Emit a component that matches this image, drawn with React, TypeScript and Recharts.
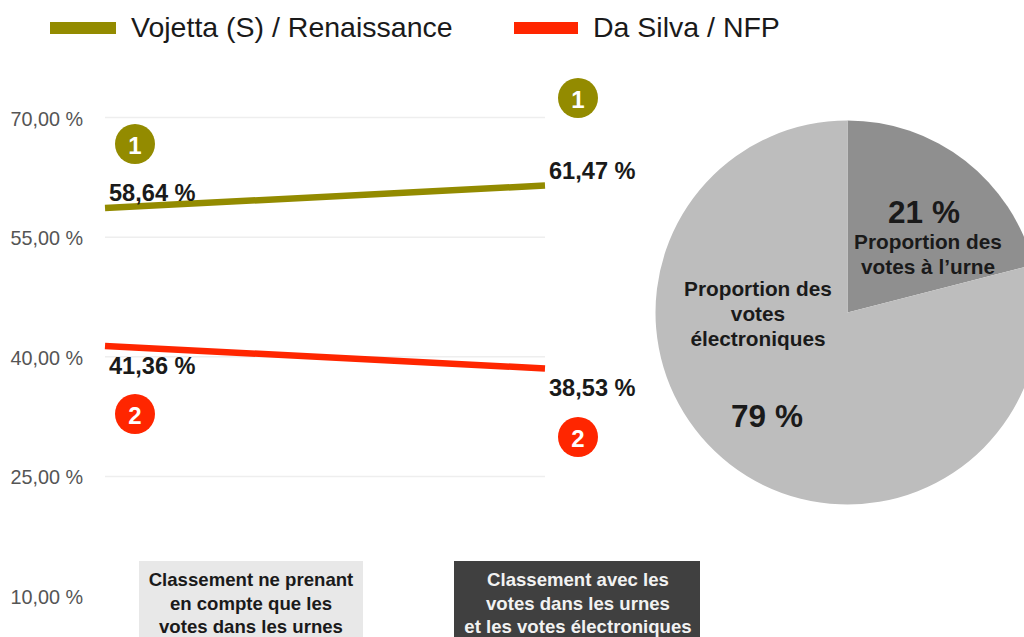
import { Cell, CartesianGrid, LabelList, Line, LineChart, Pie, PieChart, XAxis, YAxis } from 'recharts'

const W = 1024
const H = 637
const FONT = '"Liberation Sans", Arial, sans-serif'

// donnees
const categories = ['Urnes', 'Urnes + électronique']
const vojettaValues = [58.64, 61.47]
const daSilvaValues = [41.36, 38.53]
const yTicks = [10, 25, 40, 55, 70]
const gridValues = [25, 40, 55, 70]
const pieNames = ['Proportion des votes à l’urne', 'Proportion des votes électroniques']
const pieValues = [21, 79]

const VOJETTA = '#938b00'
const DA_SILVA = '#ff2600'

const lineData = categories.map((c, i) => ({ name: c, vojetta: vojettaValues[i], daSilva: daSilvaValues[i] }))
const pieData = pieNames.map((n, i) => ({ name: n, value: pieValues[i] }))
const pieColors = ['#8f8f8f', '#bdbdbd']

const fmt = (v: number) => `${v.toFixed(2).replace('.', ',')} %`

function pointLabel(dy: number) {
  return (props: any) => (
    <text
      x={props.x + 4}
      y={props.y + dy}
      fontFamily={FONT}
      fontSize={23.6}
      fontWeight={700}
      fill="#1a1a1a"
      dominantBaseline="central"
    >
      {fmt(props.value)}
    </text>
  )
}

function Badge({ x, y, n, color }: { x: number; y: number; n: string; color: string }) {
  return (
    <g>
      <circle cx={x} cy={y} r={20} fill={color} />
      <text x={x} y={y + 1} textAnchor="middle" dominantBaseline="central" fontFamily={FONT} fontSize={24} fontWeight={700} fill="#fff">
        {n}
      </text>
    </g>
  )
}

function Lines({ x, ys, text, size, weight = 700, fill = '#1a1a1a' }: { x: number; ys: number[]; text: string[]; size: number; weight?: number; fill?: string }) {
  return (
    <>
      {text.map((t, i) => (
        <text key={t} x={x} y={ys[i]} textAnchor="middle" dominantBaseline="central" fontFamily={FONT} fontSize={size} fontWeight={weight} fill={fill}>
          {t}
        </text>
      ))}
    </>
  )
}

function LegendItem({ left, swatch, label, color }: { left: number; swatch: number; label: string; color: string }) {
  return (
    <div style={{ position: 'absolute', left, top: 0, height: 55, display: 'flex', alignItems: 'center', whiteSpace: 'nowrap' }}>
      <div style={{ width: swatch, height: 12, background: color, marginRight: 15 }} />
      <span style={{ fontFamily: FONT, fontSize: 28.5, color: '#1a1a1a' }}>{label}</span>
    </div>
  )
}

export default function App() {
  return (
    <div style={{ position: 'absolute', left: 0, top: 0, width: W, height: H, overflow: 'hidden', background: '#fff' }}>
      <LegendItem left={50} swatch={66} label="Vojetta (S) / Renaissance" color={VOJETTA} />
      <LegendItem left={514} swatch={64} label="Da Silva / NFP" color={DA_SILVA} />

      <div style={{ position: 'absolute', left: 0, top: 0 }}>
        <LineChart width={W} height={H} data={lineData} margin={{ top: 117.5, right: 479, bottom: 41, left: 0 }}>
          <CartesianGrid horizontal vertical={false} stroke="#eeeeee" strokeWidth={1.5} horizontalValues={gridValues} />
          <XAxis dataKey="name" hide />
          <YAxis
            width={105}
            domain={[10, 70]}
            ticks={yTicks}
            tickFormatter={fmt}
            tickLine={false}
            axisLine={false}
            tickSize={0}
            tickMargin={22}
            tick={{ fontFamily: FONT, fontSize: 19.8, fill: '#555555', dy: 1 }}
          />
          <Line dataKey="vojetta" stroke={VOJETTA} strokeWidth={6.5} dot={false} isAnimationActive={false}>
            <LabelList dataKey="vojetta" content={pointLabel(-15)} />
          </Line>
          <Line dataKey="daSilva" stroke={DA_SILVA} strokeWidth={6.5} dot={false} isAnimationActive={false}>
            <LabelList dataKey="daSilva" content={pointLabel(20)} />
          </Line>
        </LineChart>
      </div>

      <div style={{ position: 'absolute', left: 0, top: 0 }}>
        <PieChart width={W} height={H} margin={{ top: 0, right: 0, bottom: 0, left: 0 }}>
          <Pie
            data={pieData}
            dataKey="value"
            nameKey="name"
            cx={847.5}
            cy={312.5}
            innerRadius={0}
            outerRadius={192}
            startAngle={90}
            endAngle={-270}
            stroke="none"
            isAnimationActive={false}
          >
            {pieData.map((d, i) => (
              <Cell key={d.name} fill={pieColors[i]} />
            ))}
          </Pie>
        </PieChart>
      </div>

      <svg width={W} height={H} style={{ position: 'absolute', left: 0, top: 0 }}>
        <Badge x={135} y={144} n="1" color={VOJETTA} />
        <Badge x={578} y={98} n="1" color={VOJETTA} />
        <Badge x={135} y={414} n="2" color={DA_SILVA} />
        <Badge x={578} y={437} n="2" color={DA_SILVA} />

        <rect x={139} y={561} width={224} height={76} fill="#e8e8e8" />
        <rect x={454} y={561} width={246} height={76} fill="#404040" />
        <Lines x={251} ys={[579, 603, 626]} text={['Classement ne prenant', 'en compte que les', 'votes dans les urnes']} size={18.6} />
        <Lines x={578} ys={[579, 603, 626]} text={['Classement avec les', 'votes dans les urnes', 'et les votes électroniques']} size={18.6} fill="#f2f2f2" />

        <Lines x={924} ys={[212]} text={['21 %']} size={31.5} />
        <Lines x={928} ys={[241, 266]} text={['Proportion des', 'votes à l’urne']} size={20.8} />
        <Lines x={758} ys={[288, 313, 338]} text={['Proportion des', 'votes', 'électroniques']} size={20.8} />
        <Lines x={767} ys={[416]} text={['79 %']} size={31.5} />
      </svg>
    </div>
  )
}
